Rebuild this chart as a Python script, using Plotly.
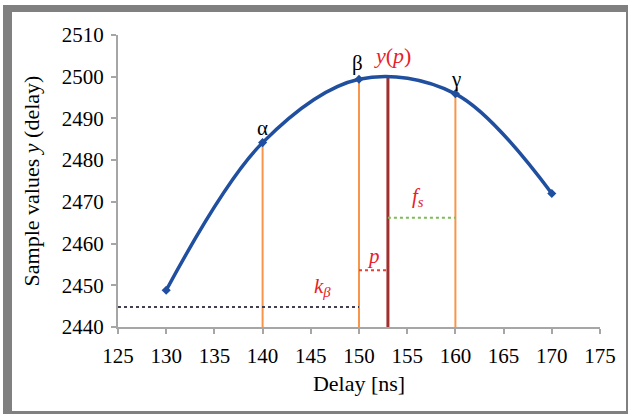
import plotly.graph_objects as go

# ---- data ----
delay = [130, 140, 150, 160, 170]
samples = [2448.8, 2484.2, 2499.4, 2495.9, 2472.0]

orange_x = [140, 150, 160]
orange_top = [2484.2, 2499.4, 2495.9]
peak_x = 153
peak_y = 2500.2
y_min = 2440

k_beta = {"x": [125, 150], "y": [2444.8, 2444.8]}
p_line = {"x": [150, 153], "y": [2453.6, 2453.6]}
fs_line = {"x": [153, 160], "y": [2466.2, 2466.2]}

labels = [
    ("α", 140, 2487.6, "black", 21),
    ("β", 149.8, 2503.3, "black", 21),
    ("γ", 160.1, 2499.4, "black", 21),
    ("<i>y</i>(<i>p</i>)", 153.5, 2505.0, "#E8202A", 22),
    ("<i>f<sub>s</sub></i>", 156.1, 2471.2, "#E8202A", 21),
    ("<i>p</i>", 151.5, 2457.0, "#E8202A", 21),
    ("<i>k<sub>β</sub></i>", 146.2, 2449.6, "#E8202A", 21),
]

x_ticks = list(range(125, 176, 5))
y_ticks = list(range(2440, 2511, 10))

W, H = 628, 414
L, R, T, B = 118, 28, 35, 87
FONT = "Liberation Serif"

fig = go.Figure()

for xv, yt in zip(orange_x, orange_top):
    fig.add_trace(go.Scatter(x=[xv, xv], y=[y_min, yt], mode="lines",
                             line=dict(color="#F7964A", width=2), hoverinfo="skip"))
fig.add_trace(go.Scatter(x=[peak_x, peak_x], y=[y_min, peak_y], mode="lines",
                         line=dict(color="#A0302E", width=3), hoverinfo="skip"))
fig.add_trace(go.Scatter(x=k_beta["x"], y=k_beta["y"], mode="lines",
                         line=dict(color="#404050", width=2, dash="dot")))
fig.add_trace(go.Scatter(x=p_line["x"], y=p_line["y"], mode="lines",
                         line=dict(color="#E8403A", width=2, dash="dot")))
fig.add_trace(go.Scatter(x=fs_line["x"], y=fs_line["y"], mode="lines",
                         line=dict(color="#7DBA5A", width=2, dash="dot")))
fig.add_trace(go.Scatter(x=delay, y=samples, mode="lines+markers",
                         line=dict(color="#1F4F9E", width=3.5, shape="spline", smoothing=1.0),
                         marker=dict(symbol="diamond", size=7, color="#1F4F9E")))

for txt, xv, yv, col, sz in labels:
    fig.add_annotation(x=xv, y=yv, text=txt, showarrow=False,
                       font=dict(family=FONT, size=sz, color=col),
                       xanchor="center", yanchor="middle")

def px(xp):
    return (xp - L) / (W - L - R)
def py(yp):
    return (H - B - yp) / (H - T - B)

frame = [(3, 5, 12, 414), (3, 5, 628, 12), (626, 5, 628, 414), (3, 411, 628, 414)]
for x0, y0, x1, y1 in frame:
    fig.add_shape(type="rect", xref="paper", yref="paper",
                  x0=px(x0), x1=px(x1), y0=py(y0), y1=py(y1),
                  fillcolor="#808080", line=dict(width=0), layer="below")

axis_common = dict(showgrid=False, zeroline=False, showline=True, linecolor="#A6A6A6",
                   linewidth=2, ticks="outside", ticklen=5, tickcolor="#A6A6A6", tickwidth=2,
                   tickfont=dict(family=FONT, size=21, color="black"))

fig.update_layout(
    width=W, height=H, margin=dict(l=L, r=R, t=T, b=B, autoexpand=False),
    paper_bgcolor="white", plot_bgcolor="white", showlegend=False,
    font=dict(family=FONT),
    xaxis=dict(range=[125, 175], tickvals=x_ticks, ticklabelstandoff=4,
               title=dict(text="Delay [ns]", font=dict(family=FONT, size=22, color="black"), standoff=8),
               **axis_common),
    yaxis=dict(range=[2440, 2510], tickvals=y_ticks, ticklabelstandoff=3,
               title=dict(text="Sample values <i>y</i> (delay)", font=dict(family=FONT, size=22, color="black"), standoff=16),
               **axis_common),
)

fig.write_html("out.html")
